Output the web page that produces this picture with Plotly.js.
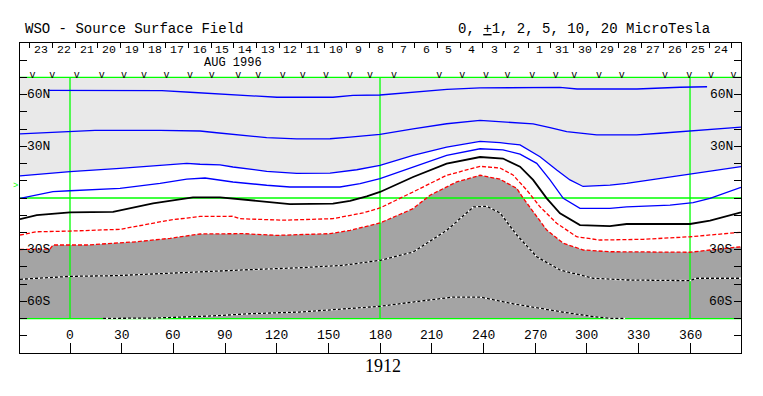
<!DOCTYPE html>
<html><head><meta charset="utf-8">
<script src="https://cdn.plot.ly/plotly-3.0.1.min.js"></script>
<style>html,body{margin:0;padding:0;background:#fff}#chart{width:763px;height:396px}</style>
</head><body><div id="chart"></div>
<script>
// ---- axis / label data ----
const lonMin = -29.03, lonMax = 389.6;
const lonTicks = [0,30,60,90,120,150,180,210,240,270,300,330,360];
const latTicks = [-80,-70,-60,-50,-40,-30,-20,-10,0,10,20,30,40,50,60,70,80];
const latLabelVals = [60,30,-30,-60];
const latLabelText = ['60N','30N','30S','60S'];
const dayLabels = [23,22,21,20,19,18,17,16,15,14,13,12,11,10,9,8,7,6,5,4,3,2,1,31,30,29,28,27,26,25,24];
const dayStartLon = -23.23, dayStepLon = 13.146;
const obsLon = [-21.7,-10.3,3.9,18.4,31.4,43.0,56.1,69.7,82.3,97.7,109.3,123.5,135.1,148.6,162.6,174.2,188.1,214.4,227.8,241.5,254.1,268.4,282.0,292.8,307.2,320.4,345.5,359.6,372.2,385.2];
const b0 = 6.8;
const rotation = '1912';
const monthLabel = 'AUG 1996';
const titleLeft = 'WSO - Source Surface Field';
const titleRight = '0, <u>+</u>1, 2, 5, 10, 20 MicroTesla';

// ---- contour lines (lon, lat) ----
const p10Lon = [-12.8,17.4,53.4,69.7,90.0,108.5,120.2,152.7,164.3,180.0,199.2,218.9,238.1,284.5,294.4,329.2,354.2,369.9];
const p10Lat = [62.5,62.5,62.4,61.4,60.4,59.2,58.5,58.5,59.6,59.8,61.5,63.1,63.9,64.2,63.3,63.3,64.3,64.6];

const p5Lon = [-29.03,0,14.5,52.3,75.5,85.2,98.7,114.2,131.6,151.0,162.6,180,199.2,218.7,238.1,249.7,257.2,268.9,278.7,288.4,305.8,329.1,342.6,361.8,381.3,389.6];
const p5Lat = [37.2,38.7,39.3,39.3,38.9,37.9,36.4,35.0,34.3,34.4,35.4,37.0,40.2,43.1,45.1,44.3,44.1,43.0,40.9,38.5,36.6,36.6,37.6,39.1,40.5,41.1];

const p2Lon = [-29.03,0,29.0,58.1,67.8,75.5,87.1,94.6,114.2,131.6,151.0,166.5,180,199.2,218.7,238.1,249.7,261.3,272.9,282.6,290.3,297.9,313.5,323.2,342.4,361.8,389.6];
const p2Lat = [12.8,15.3,17.2,19.7,20.1,19.6,19.2,18.0,15.5,14.3,14.5,16.4,19.0,24.8,29.6,32.9,32.1,30.8,24.0,16.3,10.5,6.7,7.5,8.5,11.4,14.3,18.2];

const p1Lon = [-29.03,-9.9,0,29.0,52.3,67.8,78.4,94.6,114.2,127.7,156.8,168.4,180,199.2,218.7,238.1,251.4,261.3,271.0,278.7,286.4,296.1,313.5,323.2,348.4,361.8,371.6,389.6];
const p1Lat = [-0.2,3.7,4.2,5.6,8.5,11.0,11.6,9.3,7.4,6.4,6.4,8.3,11.2,18.0,24.8,28.6,27.9,25.5,20.1,10.5,-0.2,-6.0,-6.0,-5.1,-4.1,-2.7,-0.2,6.2];

const zLon = [-29.03,-19.3,0,25.0,48.2,63.9,71.4,87.1,104.5,127.7,152.7,162.6,172.3,180,199.2,218.7,238.1,251.4,261.3,268.9,276.8,284.5,296.1,313.5,323.2,360.0,371.6,389.6];
const zLat = [-12.3,-9.9,-8.3,-8.0,-3.1,-0.8,0.4,0.4,-1.3,-3.5,-3.3,-1.7,1.0,3.5,12.2,19.9,23.8,22.9,18.2,10.5,-0.2,-8.9,-15.7,-16.3,-15.1,-15.1,-13.2,-8.3];

const m1Lon = [-29.03,-19.3,0,29.0,58.1,75.5,94.6,98.7,123.7,152.7,170.1,180,199.2,218.7,238.1,249.7,257.2,265.2,272.9,282.6,294.2,307.6,332.8,360.0,389.6];
const m1Lat = [-21.5,-19.6,-19.2,-18.2,-12.8,-10.7,-10.6,-12.0,-12.9,-12.0,-8.7,-5.8,3.5,13.2,18.4,17.4,13.4,4.6,-5.1,-14.7,-22.5,-24.4,-24.0,-22.5,-19.9];

const m2Lon = [-29.03,-11.6,-9.9,9.7,38.7,58.1,75.5,100.5,120.0,151.0,162.6,180,199.2,209.0,224.5,238.1,249.7,259.4,263.2,269.0,276.8,286.4,298.1,313.5,360.0,371.6,389.6];
const m2Lat = [-29.9,-29.6,-27.3,-27.3,-25.4,-23.4,-20.9,-20.7,-21.7,-20.7,-18.8,-14.5,-6.2,1.6,9.3,13.2,10.9,5.6,-0.2,-8.0,-18.6,-26.3,-30.2,-31.2,-31.5,-30.2,-28.3];

const m5Lon = [-29.03,0,26.1,46.5,69.7,104.5,133.5,158.5,180,199.2,218.7,234.2,241.9,249.7,259.4,271.0,284.5,303.8,323.2,360.0,363.9,389.6];
const m5Lat = [-47.2,-45.5,-45.1,-44.1,-43.1,-41.6,-40.5,-39.1,-36.2,-31.4,-18.8,-5.2,-4.8,-8.7,-21.5,-34.1,-41.8,-46.6,-47.6,-48.0,-46.6,-46.6];

const m10Lon = [19.2,48.8,81.9,104.5,133.5,152.7,180,199.2,222.6,238.1,257.2,284.5,303.8,313.5,322.3];
const m10Lat = [-69.9,-69.7,-68.5,-67.2,-66.2,-64.9,-62.9,-60.4,-57.5,-57.5,-61.4,-66.0,-68.9,-69.9,-69.9];

// ---- styles ----
const LIGHT = '#e9e9e9', DARK = '#a4a4a4', GREEN = '#00ff00', BLUE = '#0000ff', RED = '#ff0000';
const MONO = 'Liberation Mono, DejaVu Sans Mono, monospace';

const traces = [];
// fills
traces.push({x: p2Lon.concat([lonMax, lonMin]), y: p2Lat.concat([70, 70]), mode: 'none', fill: 'toself', fillcolor: LIGHT, hoverinfo: 'skip'});
traces.push({x: m2Lon.concat([lonMax, lonMin]), y: m2Lat.concat([-70, -70]), mode: 'none', fill: 'toself', fillcolor: DARK, hoverinfo: 'skip'});
// green grid lines
const gMerid = [0, 180, 360], gPar = [70, 0, -70];
let gx = [], gy = [];
gMerid.forEach(m => { gx.push(m, m, null); gy.push(-70, 70, null); });
gPar.forEach(p => { gx.push(lonMin, lonMax, null); gy.push(p, p, null); });
traces.push({x: gx, y: gy, mode: 'lines', line: {color: GREEN, width: 1.3}, hoverinfo: 'skip'});
// contours
function line(xs, ys, color, width, dash) {
  traces.push({x: xs, y: ys, mode: 'lines', line: {color: color, width: width, dash: dash || 'solid'}, hoverinfo: 'skip'});
}
line(p10Lon, p10Lat, BLUE, 1.3);
line(p5Lon, p5Lat, BLUE, 1.3);
line(p2Lon, p2Lat, BLUE, 1.3);
line(p1Lon, p1Lat, BLUE, 1.3);
line(zLon, zLat, '#000000', 1.8);
line(m1Lon, m1Lat, RED, 1.3, '4px,2px');
line(m2Lon, m2Lat, RED, 1.3, '4px,2px');
line(m5Lon, m5Lat, '#ffffff', 1.3);
line(m5Lon, m5Lat, '#000000', 1.3, '3px,2px');
line(m10Lon, m10Lat, '#ffffff', 1.3);
line(m10Lon, m10Lat, '#000000', 1.3, '3px,2px');
// observation marks
traces.push({x: obsLon, y: obsLon.map(() => 71.0), mode: 'text', text: obsLon.map(() => 'v'),
  textposition: 'middle center', textfont: {family: MONO, size: 10, color: '#000'}, hoverinfo: 'skip'});

// ---- annotations ----
const ann = [];
const txt = (o) => Object.assign({showarrow: false, borderpad: 0, font: {family: MONO, size: 13, color: '#000'}}, o);
lonTicks.forEach(v => ann.push(txt({x: v, y: -80, xref: 'x', yref: 'y', text: String(v), xanchor: 'center', yanchor: 'middle'})));
latLabelVals.forEach((v, i) => {
  ann.push(txt({x: 0, xref: 'paper', y: v, yref: 'y', text: latLabelText[i], xanchor: 'left', xshift: 6, yanchor: 'middle'}));
  ann.push(txt({x: 1, xref: 'paper', y: v, yref: 'y', text: latLabelText[i], xanchor: 'right', xshift: -7, yanchor: 'middle'}));
});
dayLabels.forEach((d, i) => ann.push(txt({x: dayStartLon + dayStepLon * (i + 0.5), y: 86.2, xref: 'x', yref: 'y', text: String(d), xanchor: 'center', yanchor: 'middle', font: {family: MONO, size: 11.5, color: '#000'}})));
ann.push(txt({x: 94.6, y: 78.5, xref: 'x', yref: 'y', text: monthLabel, xanchor: 'center', yanchor: 'middle', font: {family: MONO, size: 12, color: '#000'}}));
ann.push(txt({x: 0, xref: 'paper', y: 1, yref: 'paper', yshift: 14, xshift: 4, text: titleLeft, xanchor: 'left', yanchor: 'middle', font: {family: MONO, size: 14, color: '#000'}}));
ann.push(txt({x: (456.7 - 20) / 721, xref: 'paper', y: 1, yref: 'paper', yshift: 14, text: titleRight, xanchor: 'left', yanchor: 'middle', font: {family: MONO, size: 14, color: '#000'}}));
ann.push(txt({x: 182, xref: 'x', y: 0, yref: 'paper', yshift: -13, text: rotation, xanchor: 'center', yanchor: 'middle', font: {family: 'Liberation Serif, serif', size: 18, color: '#000'}}));
ann.push(txt({x: 0, xref: 'paper', y: b0, yref: 'y', xshift: -1, text: '>', xanchor: 'right', yanchor: 'middle', font: {family: MONO, size: 9, color: GREEN}}));

const dayTicks = dayLabels.concat([0]).map((d, i) => dayStartLon + dayStepLon * i);

const layout = {
  width: 763, height: 396,
  margin: {l: 20, r: 22, t: 43, b: 43, pad: 0},
  paper_bgcolor: '#fff', plot_bgcolor: '#fff',
  showlegend: false, hovermode: false,
  xaxis: {range: [lonMin, lonMax], showgrid: false, zeroline: false, showline: true, mirror: true,
    linecolor: '#000', linewidth: 1, ticks: 'inside', ticklen: 10, tickcolor: '#000', tickwidth: 1,
    tickvals: lonTicks, showticklabels: false, fixedrange: true},
  xaxis2: {range: [lonMin, lonMax], overlaying: 'x', side: 'top', anchor: 'y', showgrid: false, zeroline: false,
    showline: false, ticks: 'inside', ticklen: 5, tickcolor: '#000', tickwidth: 1, tickvals: dayTicks, showticklabels: false},
  yaxis: {range: [-90, 90], showgrid: false, zeroline: false, showline: true, mirror: 'ticks',
    linecolor: '#000', linewidth: 1, ticks: 'inside', ticklen: 7, tickcolor: '#000', tickwidth: 1,
    tickvals: latTicks, showticklabels: false, fixedrange: true},
  annotations: ann
};
// dummy trace for xaxis2 so it renders
traces.push({x: [lonMin], y: [0], xaxis: 'x2', mode: 'markers', marker: {opacity: 0}, hoverinfo: 'skip'});

Plotly.newPlot('chart', traces, layout, {displayModeBar: false, staticPlot: true});
</script></body></html>
